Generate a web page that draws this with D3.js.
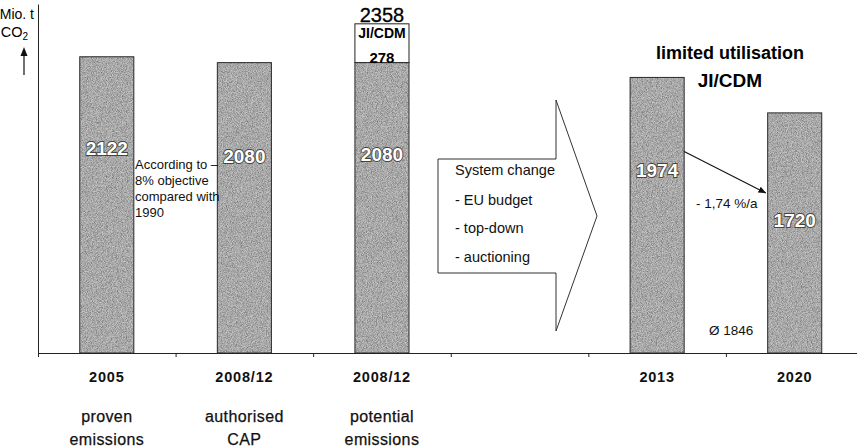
<!DOCTYPE html>
<html>
<head>
<meta charset="utf-8">
<script src="https://cdn.jsdelivr.net/npm/d3@7"></script>
<style>
  html, body { margin: 0; padding: 0; background: #fff; }
  svg { display: block; font-family: "Liberation Sans", Arial, sans-serif; }
</style>
</head>
<body>
<svg id="chart" width="857" height="448"></svg>
<script>
// Category slots (the fourth slot holds the "system change" arrow)
const slots = ["s2005", "s2008a", "s2008b", "gap", "s2013", "s2020"];
const periods = ["2005", "2008/12", "2008/12", "", "2013", "2020"];
const descriptions = [["proven", "emissions"], ["authorised", "CAP"], ["potential", "emissions"], [], [], []];
// Emissions in Mio. t CO2
const values = [2122, 2080, 2080, null, 1974, 1720];
const jiCdmExtra = 278;      // JI/CDM credits stacked on the potential emissions
const jiCdmTotal = 2358;
const trendLabel = "- 1,74 %/a";
const averageLabel = "Ø 1846";
const noteLines = ["According to –", "8% objective", "compared with", "1990"];
const changeLines = ["System change", "- EU budget", "- top-down", "- auctioning"];

const svg = d3.select("#chart");
const plotLeft = 38, plotRight = 863.5, plotBase = 353, plotTop = 4;

const x = d3.scaleBand().domain(slots).range([plotLeft, plotRight]).padding(0);
const y = d3.scaleLinear().domain([0, 2500]).range([plotBase, plotTop]);
const barW = x.bandwidth() * 0.393;
const cx = k => x(k) + x.bandwidth() / 2;

// light grain texture for the bars
const defs = svg.append("defs");
const f = defs.append("filter").attr("id", "grain").attr("x", 0).attr("y", 0).attr("width", 1).attr("height", 1);
f.append("feTurbulence").attr("type", "fractalNoise").attr("baseFrequency", 1.2).attr("numOctaves", 1).attr("seed", 3).attr("result", "noise");
f.append("feColorMatrix").attr("in", "noise").attr("type", "matrix")
  .attr("values", "1.8 0 0 0 -0.35  1.8 0 0 0 -0.35  1.8 0 0 0 -0.35  0 0 0 0 0.4").attr("result", "dots");
f.append("feComposite").attr("in", "dots").attr("in2", "SourceGraphic").attr("operator", "in").attr("result", "clipped");
const fm = f.append("feMerge");
fm.append("feMergeNode").attr("in", "SourceGraphic");
fm.append("feMergeNode").attr("in", "clipped");

const barData = slots.map((k, i) => ({ k, v: values[i], i })).filter(d => d.v != null);

// JI/CDM box on top of the third bar
svg.append("rect")
  .attr("x", cx("s2008b") - barW / 2).attr("width", barW)
  .attr("y", y(jiCdmTotal)).attr("height", y(values[2]) - y(jiCdmTotal))
  .attr("fill", "#fff").attr("stroke", "#222").attr("stroke-width", 1);

const barG = svg.append("g").attr("filter", "url(#grain)");
barG.selectAll("rect").data(barData).join("rect")
  .attr("x", d => cx(d.k) - barW / 2).attr("width", barW)
  .attr("y", d => y(d.v)).attr("height", d => plotBase - y(d.v))
  .attr("fill", "#939393");
svg.append("g").selectAll("rect").data(barData).join("rect")
  .attr("x", d => cx(d.k) - barW / 2).attr("width", barW)
  .attr("y", d => y(d.v)).attr("height", d => plotBase - y(d.v))
  .attr("fill", "none").attr("stroke", "#2a2a2a").attr("stroke-width", 1);

// value labels inside bars
const labelDrop = { s2005: 98, s2008a: 100, s2008b: 98, s2013: 100, s2020: 114 };
svg.append("g").selectAll("text").data(barData).join("text")
  .attr("x", d => cx(d.k)).attr("y", d => y(d.v) + labelDrop[d.k])
  .attr("text-anchor", "middle")
  .attr("font-size", 19).attr("font-weight", "bold")
  .attr("fill", "#fff").attr("stroke", "#444").attr("stroke-width", 1.8).attr("paint-order", "stroke")
  .text(d => d.v);

// JI/CDM labels
svg.append("text").attr("x", cx("s2008b")).attr("y", y(jiCdmTotal) - 2)
  .attr("text-anchor", "middle").attr("font-size", 20).attr("stroke", "#000").attr("stroke-width", 0.3)
  .text(jiCdmTotal);
svg.append("text").attr("x", cx("s2008b")).attr("y", y(jiCdmTotal) + 14)
  .attr("text-anchor", "middle").attr("font-size", 14).attr("font-weight", "bold").text("JI/CDM");
svg.append("text").attr("x", cx("s2008b")).attr("y", y(values[2]))
  .attr("text-anchor", "middle").attr("font-size", 15).attr("font-weight", "bold").text(jiCdmExtra);

// axes
const yAxis = d3.axisLeft(y).tickValues([]).tickSizeOuter(0);
svg.append("g").attr("transform", `translate(${plotLeft},0)`).call(yAxis)
  .select(".domain").attr("stroke", "#222");

const xb = d3.scaleLinear().domain([0, slots.length]).range([plotLeft, plotRight]);
const xAxis = d3.axisBottom(xb).tickValues(d3.range(0, slots.length)).tickFormat("").tickSize(4).tickSizeOuter(0);
const xg = svg.append("g").attr("transform", `translate(0,${plotBase})`).call(xAxis);
xg.select(".domain").attr("stroke", "#222");
xg.selectAll(".tick line").attr("stroke", "#222");

// period and description labels
svg.append("g").selectAll("text").data(slots.map((k, i) => ({ k, t: periods[i] })).filter(d => d.t))
  .join("text")
  .attr("x", d => cx(d.k)).attr("y", 382)
  .attr("text-anchor", "middle").attr("font-size", 14.5).attr("font-weight", "bold")
  .attr("letter-spacing", 0.8).attr("fill", "#111")
  .text(d => d.t);

slots.forEach((k, i) => {
  descriptions[i].forEach((line, j) => {
    svg.append("text").attr("x", cx(k)).attr("y", 422 + j * 23)
      .attr("text-anchor", "middle").attr("font-size", 16).attr("letter-spacing", 0.4).attr("fill", "#111")
      .attr("stroke", "#111").attr("stroke-width", 0.25)
      .text(line);
  });
});

// unit label
svg.append("text").attr("x", 34).attr("y", 19).attr("text-anchor", "end").attr("font-size", 14).text("Mio. t");
const co = svg.append("text").attr("x", 28).attr("y", 37).attr("text-anchor", "end").attr("font-size", 14.5);
co.append("tspan").text("CO");
co.append("tspan").attr("font-size", 10).attr("dy", 3).text("2");
svg.append("line").attr("x1", 24).attr("x2", 24).attr("y1", 75).attr("y2", 54).attr("stroke", "#111").attr("stroke-width", 1.2);
svg.append("path").attr("d", "M24,47 L20.5,56 L27.5,56 Z").attr("fill", "#111");

// note between first two bars
svg.append("g").selectAll("text").data(noteLines).join("text")
  .attr("x", 135).attr("y", (d, i) => 169 + i * 16)
  .attr("font-size", 13).attr("fill", "#111").text(d => d);

// system change arrow
const ax0 = 438, ax1 = 556, tipX = 597, tipY = 216;
const arrowPts = [[ax0, 159], [ax1, 159], [ax1, 100], [tipX, tipY], [ax1, 331], [ax1, 273], [ax0, 273]];
svg.append("path").attr("d", d3.line()(arrowPts) + "Z")
  .attr("fill", "#fff").attr("stroke", "#333").attr("stroke-width", 1);
svg.append("g").selectAll("text").data(changeLines).join("text")
  .attr("x", 455).attr("y", (d, i) => [175, 205, 233, 262][i])
  .attr("font-size", 14.5).attr("fill", "#111").text(d => d);

// outlook header
const hx = (cx("s2013") + cx("s2020")) / 2 + 4;
svg.append("text").attr("x", hx).attr("y", 59).attr("text-anchor", "middle")
  .attr("font-size", 18).attr("font-weight", "bold").text("limited utilisation");
svg.append("text").attr("x", hx).attr("y", 87).attr("text-anchor", "middle")
  .attr("font-size", 19).attr("font-weight", "bold").text("JI/CDM");

// trend arrow between 2013 and 2020
defs.append("marker").attr("id", "head").attr("viewBox", "0 0 10 10").attr("refX", 9).attr("refY", 5)
  .attr("markerWidth", 8).attr("markerHeight", 8).attr("orient", "auto").attr("markerUnits", "userSpaceOnUse")
  .append("path").attr("d", "M0,1 L10,5 L0,9 Z").attr("fill", "#111");
svg.append("line")
  .attr("x1", cx("s2013") + barW / 2).attr("y1", y(values[4]) + 74)
  .attr("x2", cx("s2020") - barW / 2 - 2).attr("y2", y(values[5]) + 80)
  .attr("stroke", "#111").attr("stroke-width", 1.1).attr("marker-end", "url(#head)");
svg.append("text").attr("x", 696).attr("y", 208).attr("font-size", 13.5).attr("fill", "#111").text(trendLabel);
svg.append("text").attr("x", 709).attr("y", 335).attr("font-size", 13.5).attr("fill", "#111").text(averageLabel);
</script>
</body>
</html>
